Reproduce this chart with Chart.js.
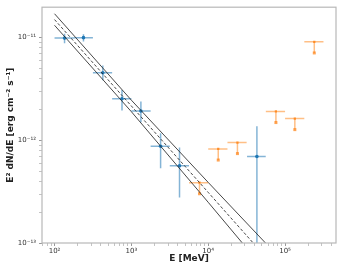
<!DOCTYPE html>
<html>
<head>
<meta charset="utf-8">
<script src="https://cdn.jsdelivr.net/npm/chart.js@4.4.0/dist/chart.umd.min.js"></script>
<style>
    html, body { margin: 0; padding: 0; background: #fff; }
    #wrap { width: 343px; height: 265px; }
</style>
</head>
<body>
<div id="wrap"><canvas id="sed"></canvas></div>
<script>
// detected flux points (MeV, erg cm-2 s-1)
const detE = [135, 238, 425, 755, 1330, 2400, 4230, 43000];
const detLo = [100, 178, 316, 562, 1000, 1780, 3160, 32000];
const detHi = [178, 316, 562, 1000, 1780, 3160, 5620, 56000];
const detFlux = [9.9e-12, 1.0e-11, 4.55e-12, 2.54e-12, 1.93e-12, 8.77e-13, 5.66e-13, 6.95e-13];
const detFluxLo = [8.8e-12, 9.2e-12, 3.85e-12, 1.95e-12, 1.5e-12, 5.35e-13, 2.77e-13, 1e-14];
const detFluxHi = [1.09e-11, 1.08e-11, 5.36e-12, 3.09e-12, 2.39e-12, 1.17e-12, 8.53e-13, 1.37e-12];

// upper limits
const ulE = [7700, 13500, 24000, 76000, 134000, 240000];
const ulLo = [5620, 10000, 17800, 56200, 100000, 178000];
const ulHi = [10000, 17800, 31600, 100000, 178000, 316000];
const ulFlux = [3.87e-13, 8.24e-13, 9.52e-13, 1.91e-12, 1.63e-12, 9.1e-12];

// fitted model and its band
const modelE = [100, 1000, 10000, 100000];
const modelMid = [1.5e-11, 2.16e-12, 3.11e-13, 4.48e-14];
const modelUp = [1.71e-11, 2.46e-12, 3.89e-13, 6.29e-14];
const modelLo = [1.32e-11, 1.9e-12, 2.49e-13, 3.19e-14];

const blue = '#1f77b4';
const orange = '#ff7f0e';
const font = 'DejaVu Sans';

const sup = { '-': '\u207B', '0': '\u2070', '1': '\u00B9', '2': '\u00B2', '3': '\u00B3', '4': '\u2074', '5': '\u2075' };
const powLabel = (exp) => '10' + String(exp).split('').map(c => sup[c]).join('');

function logTicks(scale) {
    const ticks = [];
    const lo = Math.floor(Math.log10(scale.min));
    const hi = Math.ceil(Math.log10(scale.max));
    for (let e = lo; e <= hi; e++) {
        for (let m = 1; m <= 9; m++) {
            const v = m * Math.pow(10, e);
            if (v >= scale.min && v <= scale.max) ticks.push({ value: v, major: m === 1, exp: e });
        }
    }
    scale.ticks = ticks;
}

const pts = (xs, ys) => xs.map((x, i) => ({ x, y: ys[i] }));

const errorBars = {
    id: 'errorBars',
    beforeDatasetsDraw(chart) {
        const { ctx, chartArea: a, scales: { x, y } } = chart;
        ctx.save();
        ctx.beginPath();
        ctx.rect(a.left, a.top, a.right - a.left, a.bottom - a.top);
        ctx.clip();
        ctx.lineWidth = 1.5;
        ctx.strokeStyle = 'rgba(31,119,180,0.55)';
        detE.forEach((e, i) => {
            const px = x.getPixelForValue(e);
            const py = y.getPixelForValue(detFlux[i]);
            ctx.beginPath();
            ctx.moveTo(x.getPixelForValue(detLo[i]), py);
            ctx.lineTo(x.getPixelForValue(detHi[i]), py);
            ctx.moveTo(px, y.getPixelForValue(detFluxHi[i]));
            ctx.lineTo(px, y.getPixelForValue(detFluxLo[i]));
            ctx.stroke();
        });
        ctx.strokeStyle = 'rgba(255,127,14,0.5)';
        ctx.fillStyle = 'rgba(255,127,14,0.7)';
        ulE.forEach((e, i) => {
            const px = x.getPixelForValue(e);
            const py = y.getPixelForValue(ulFlux[i]);
            const tip = y.getPixelForValue(ulFlux[i] * 0.78);
            ctx.beginPath();
            ctx.moveTo(x.getPixelForValue(ulLo[i]), py);
            ctx.lineTo(x.getPixelForValue(ulHi[i]), py);
            ctx.moveTo(px, py);
            ctx.lineTo(px, tip);
            ctx.stroke();
            ctx.fillRect(px - 1.5, tip - 1.5, 3, 3);
        });
        ctx.restore();
    },
    afterDraw(chart) {
        const { ctx, chartArea: a } = chart;
        ctx.save();
        ctx.strokeStyle = '#b8b8b8';
        ctx.lineWidth = 1.2;
        ctx.strokeRect(a.left, a.top, a.right - a.left, a.bottom - a.top);
        ctx.restore();
    }
};

const line = (data, dash) => ({
    type: 'line',
    data,
    borderColor: 'rgba(40,40,40,0.85)',
    borderWidth: 1,
    borderDash: dash,
    pointRadius: 0,
    fill: false,
    tension: 0
});

new Chart(document.getElementById('sed'), {
    type: 'scatter',
    data: {
        datasets: [
            line(pts(modelE, modelUp), []),
            line(pts(modelE, modelMid), [3, 2]),
            line(pts(modelE, modelLo), []),
            {
                data: pts(detE, detFlux),
                backgroundColor: blue,
                borderColor: blue,
                pointRadius: 1.8,
                borderWidth: 0
            },
            {
                data: pts(ulE, ulFlux),
                backgroundColor: 'rgba(255,127,14,0.8)',
                pointStyle: 'rect',
                pointRadius: 1.6,
                borderWidth: 0
            }
        ]
    },
    options: {
        responsive: true,
        maintainAspectRatio: false,
        animation: false,
        layout: { padding: { top: 3, right: 7, left: 0, bottom: 0 } },
        plugins: {
            legend: { display: false },
            tooltip: { enabled: false }
        },
        scales: {
            x: {
                type: 'logarithmic',
                min: 68.7,
                max: 4.6e5,
                afterBuildTicks: logTicks,
                afterFit: (s) => { s.height = 22; },
                border: { display: false },
                grid: {
                    drawOnChartArea: false,
                    tickLength: 3,
                    tickColor: (c) => (c.tick && c.tick.major ? '#999' : '#c4c4c4')
                },
                ticks: {
                    autoSkip: false,
                    maxRotation: 0,
                    padding: 1,
                    color: '#333',
                    font: { family: font, size: 7 },
                    callback: (v, i, ticks) => (ticks[i].major ? powLabel(ticks[i].exp) : '')
                },
                title: {
                    display: true,
                    text: 'E [MeV]',
                    color: '#222',
                    font: { family: font, size: 9, weight: 'bold' },
                    padding: { top: 0, bottom: 0.5 }
                }
            },
            y: {
                type: 'logarithmic',
                min: 1e-13,
                max: 1.98e-11,
                afterBuildTicks: logTicks,
                afterFit: (s) => { s.width = 42; },
                border: { display: false },
                grid: {
                    drawOnChartArea: false,
                    tickLength: 3,
                    tickColor: (c) => (c.tick && c.tick.major ? '#999' : '#c4c4c4')
                },
                ticks: {
                    autoSkip: false,
                    padding: 3,
                    color: '#333',
                    font: { family: font, size: 7 },
                    callback: (v, i, ticks) => (ticks[i].major ? powLabel(ticks[i].exp) : '')
                },
                title: {
                    display: true,
                    text: 'E\u00B2 dN/dE [erg cm\u207B\u00B2 s\u207B\u00B9]',
                    color: '#222',
                    font: { family: font, size: 9, weight: 'bold' },
                    padding: { top: 5.6, bottom: 0 }
                }
            }
        }
    },
    plugins: [errorBars]
});
</script>
</body>
</html>
